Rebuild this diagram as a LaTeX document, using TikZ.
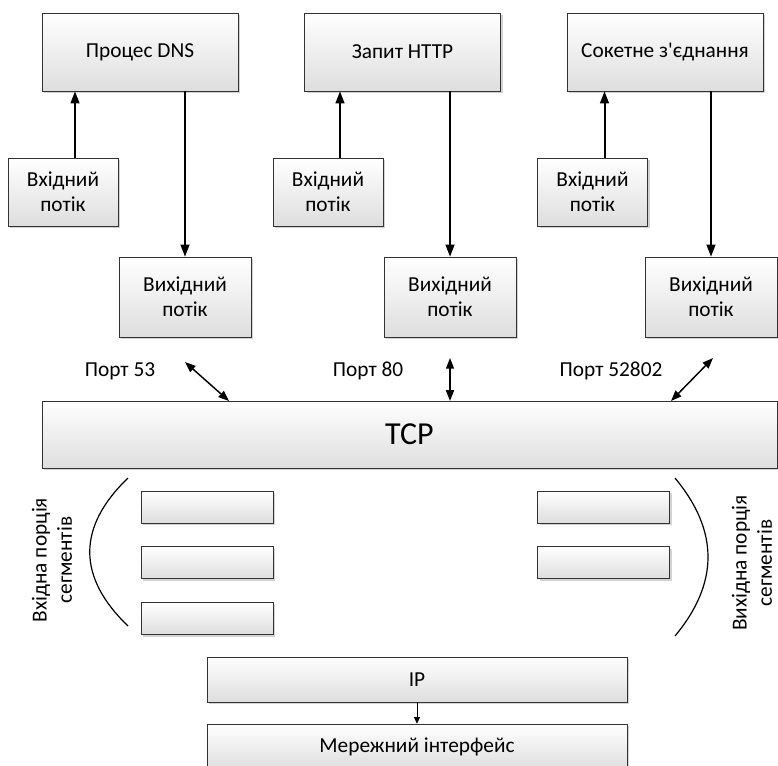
\documentclass[tikz,border=0pt]{standalone}
\usepackage{fontspec}
\setmainfont{Carlito}[Ligatures=TeXOff]
\usetikzlibrary{arrows.meta,shadows,positioning,calc}
\tikzset{>={Triangle[length=9pt,width=6.5pt]}}

\begin{document}
\begin{tikzpicture}[x=0.75pt,y=-0.75pt,
	box/.style={draw=black!80, top color=white, bottom color=black!13,
		drop shadow={shadow xshift=1.6pt, shadow yshift=-1.6pt, opacity=0.35},
		font=\fontsize{16pt}{19pt}\selectfont, align=center, inner sep=0pt},
	proc/.style={box, minimum width=147pt, minimum height=58.5pt},
	instream/.style={box, minimum width=82.5pt, minimum height=51pt},
	outstream/.style={box, minimum width=99pt, minimum height=60pt},
	seg/.style={box, minimum width=99pt, minimum height=24pt},
	layer/.style={box, minimum width=315pt, minimum height=33.75pt},
	port/.style={font=\fontsize{16pt}{19pt}\selectfont, align=center},
	flow/.style={->, line width=1.5pt},
	link/.style={<->, line width=1.1pt, >={Triangle[length=8pt,width=6pt]}}]
	\useasboundingbox (0,0) rectangle (778,765);

	\node[proc] (dns) at (140,52) {Процес DNS};
	\node[proc] (http) at (402.5,52) {Запит HTTP};
	\node[proc] (sock) at (665,52) {Сокетне з'єднання};

	\node[instream] (dnsin) at (63,192) {Вхідний\\потік};
	\node[instream] (httpin) at (328,192) {Вхідний\\потік};
	\node[instream] (sockin) at (592.5,192) {Вхідний\\потік};

	\node[outstream] (dnsout) at (185,297) {Вихідний\\потік};
	\node[outstream] (httpout) at (450,297) {Вихідний\\потік};
	\node[outstream] (sockout) at (711,297) {Вихідний\\потік};

	\node[box, minimum width=551pt, minimum height=50pt, font=\fontsize{24pt}{28pt}\selectfont] (tcp) at (409.5,434.5) {TCP};

	\node[port] (p53) at (120,371) {Порт 53};
	\node[port] (p80) at (368,371) {Порт 80};
	\node[port] (p52802) at (611,371) {Порт 52802};

	\node[seg] (inseg1) at (207,507) {};
	\node[seg] (inseg2) at (207,562.5) {};
	\node[seg] (inseg3) at (207,618.5) {};
	\node[seg] (outseg1) at (603.5,507) {};
	\node[seg] (outseg2) at (603.5,562.5) {};

	\node[port, rotate=90] (inlbl) at (52,560) {Вхідна порція\\сегментів};
	\node[port, rotate=90] (outlbl) at (752,563) {Вихідна порція\\сегментів};

	\node[layer] (ip) at (417,679.5) {IP};
	\node[layer] (net) at (417,746.5) {Мережний інтерфейс};

	\draw[flow] ([xshift=9pt]dnsin.north) -- ([xshift=9pt]dnsin.north |- dns.south);
	\draw[flow] ([xshift=9pt]httpin.north) -- ([xshift=9pt]httpin.north |- http.south);
	\draw[flow] ([xshift=9pt]sockin.north) -- ([xshift=9pt]sockin.north |- sock.south);

	\draw[flow] (dnsout.north |- dns.south) -- (dnsout.north);
	\draw[flow] (httpout.north |- http.south) -- (httpout.north);
	\draw[flow] (sockout.north |- sock.south) -- (sockout.north);

	\coordinate (dnsend) at (185,362);
	\coordinate (httpend) at (450,358);
	\coordinate (sockend) at (713,358);
	\coordinate (dnstcp) at (229,401);
	\coordinate (socktcp) at (671,401);
	\draw[link] (dnsend) -- (dnstcp);
	\draw[link] (httpend) -- (httpend |- tcp.north);
	\draw[link] (sockend) -- (socktcp);

	\draw[line width=0.9pt] (128,478) .. controls (77,527) and (77,577) .. (128,626);
	\draw[line width=0.9pt] (675,478) .. controls (719,531) and (719,583) .. (675,636);

	\draw[->, line width=0.6pt, >={Triangle[length=5pt,width=4.5pt]}] (ip) -- (net);
\end{tikzpicture}
\end{document}
